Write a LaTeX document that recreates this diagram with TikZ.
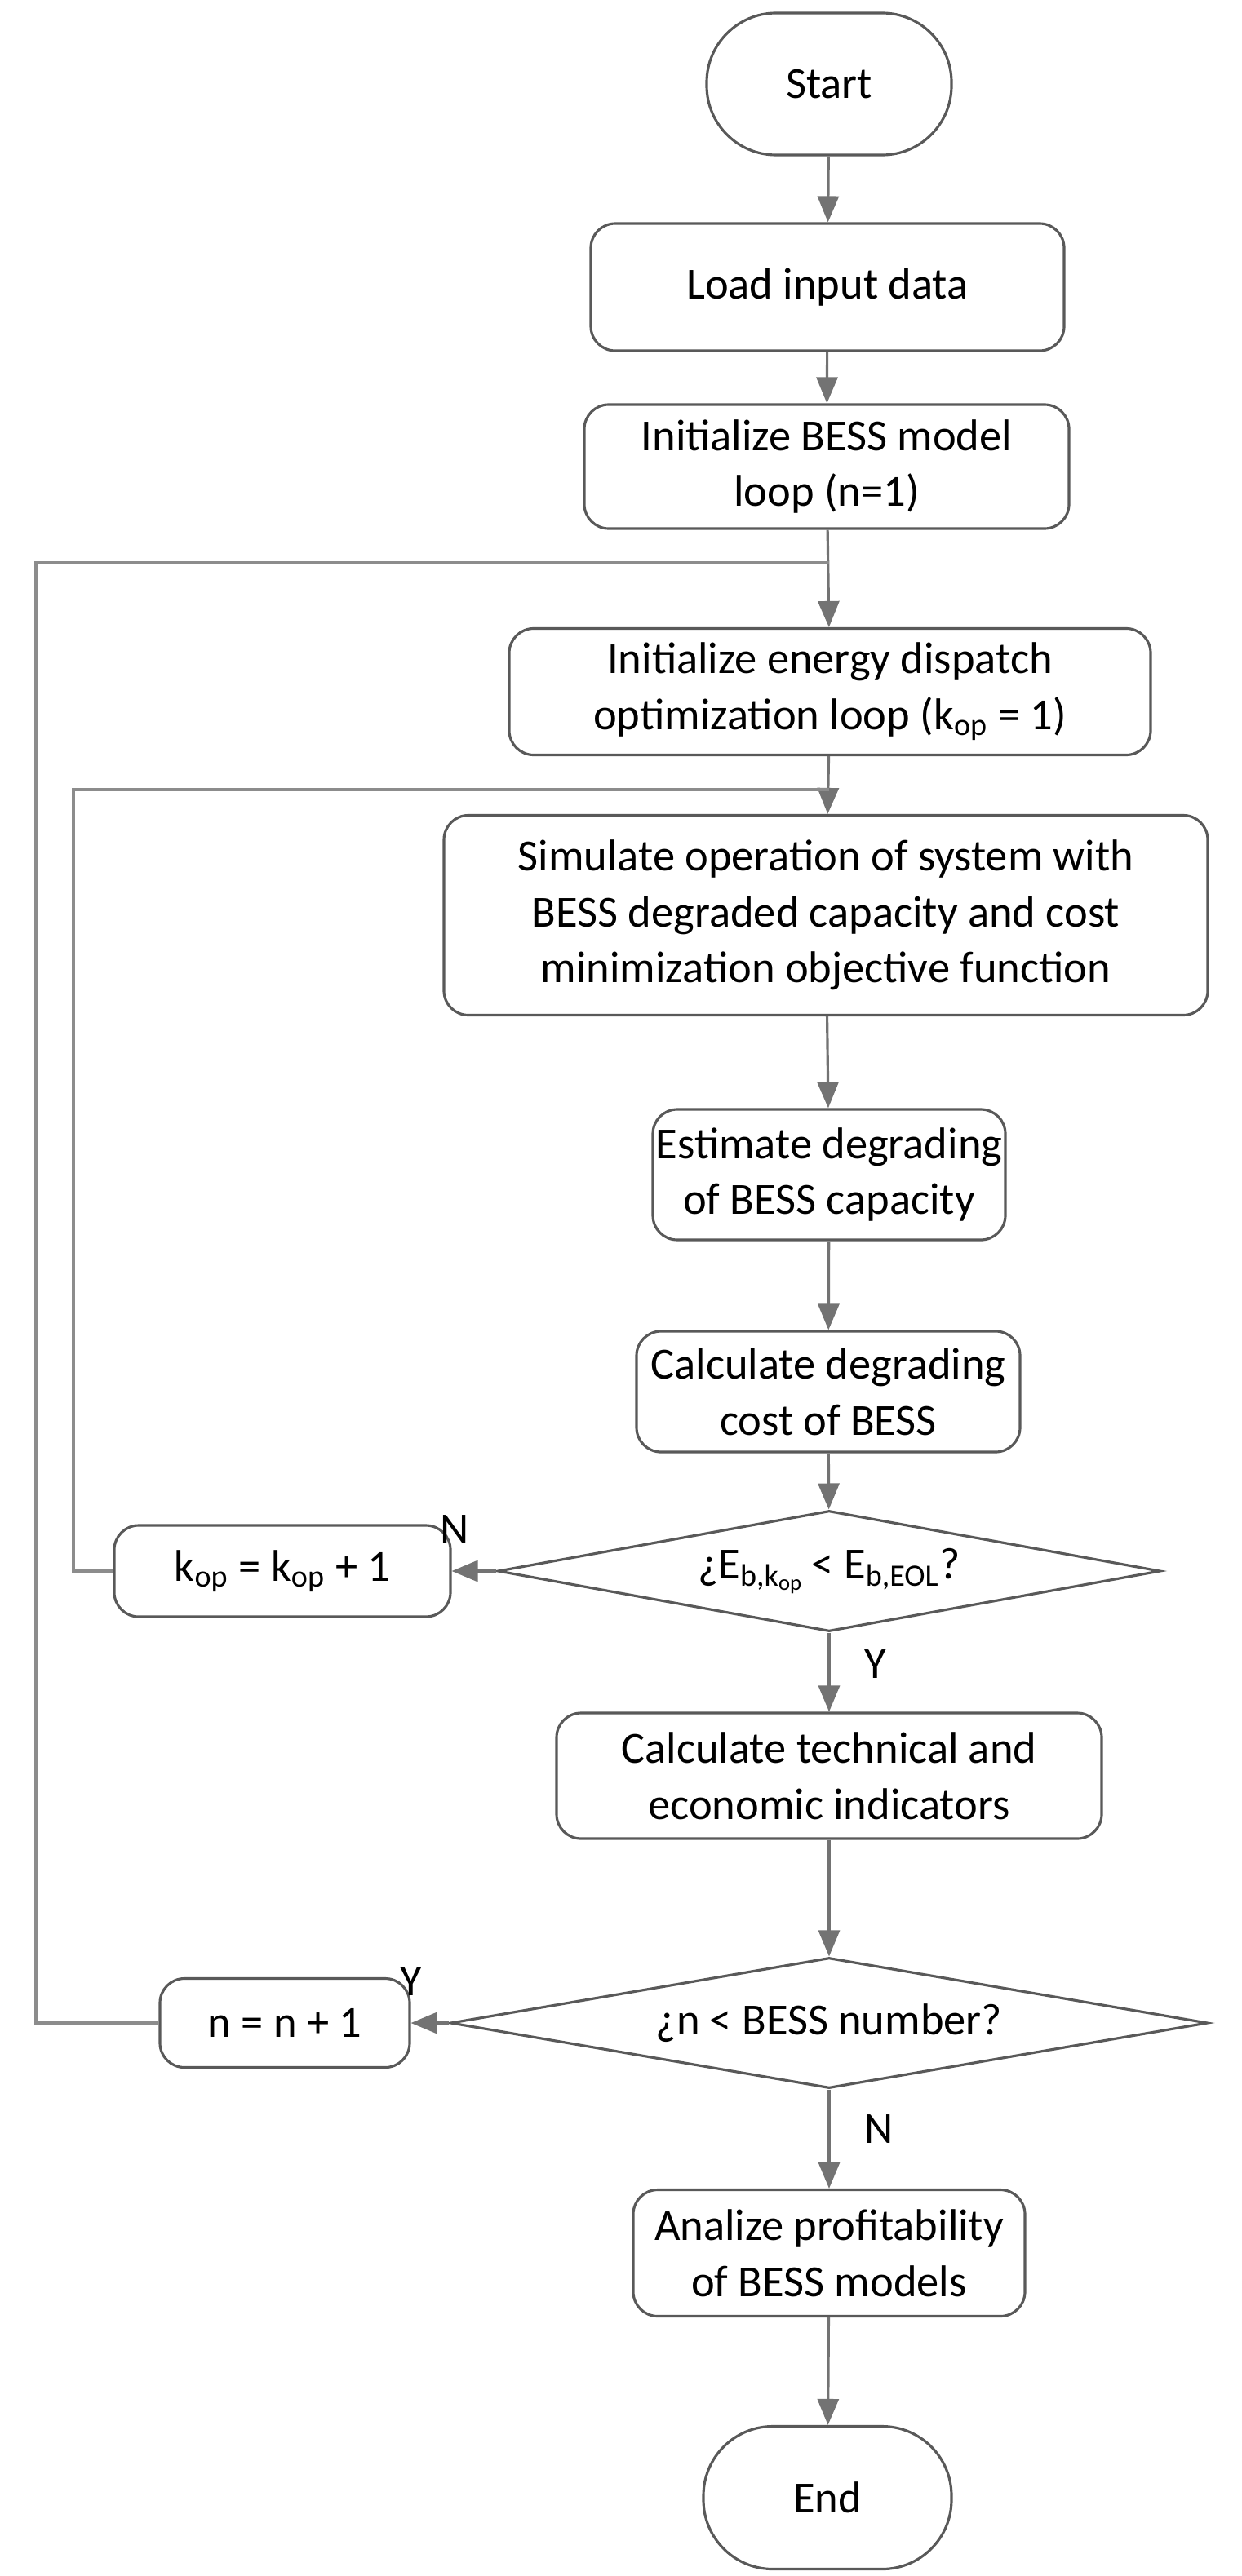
\documentclass[tikz,border=0pt]{standalone}
\usepackage{fontspec}
\setmainfont{Carlito}
\usetikzlibrary{shapes.geometric,arrows.meta}

\begin{document}
\begin{tikzpicture}[
        every node/.style = {font=\fontsize{15.5}{19.5}\selectfont, align=center, text=black},
        box/.style = {shape=rectangle, rounded corners=3mm, draw=black!65, line width=0.9pt, inner sep=0pt},
        term/.style = {box, rounded corners=8.5mm},
        dec/.style = {shape=diamond, draw=black!65, line width=0.9pt, inner sep=0pt, aspect=5.5},
        flow/.style = {draw=black!55, line width=0.9pt, -{Triangle[length=3.2mm,width=2.6mm]}},
        back/.style = {draw=black!45, line width=0.9pt}
    ]
        \useasboundingbox (0,0) rectangle (15.22,-31.58);
        \node[term, minimum width=30mm, minimum height=17.4mm] (start) at (10.16,-1.03) {Start};
        \node[box, minimum width=58mm, minimum height=15.6mm] (load) at (10.14,-3.52) {Load input data};
        \node[box, minimum width=59.4mm, minimum height=15.2mm] (initbess) at (10.13,-5.72) {Initialize BESS model\\loop (n=1)};
        \node[box, minimum width=78.6mm, minimum height=15.5mm] (initdisp) at (10.17,-8.48) {Initialize energy dispatch\\optimization loop (k\textsubscript{op} = 1)};
        \node[box, minimum width=93.6mm, minimum height=24.5mm] (sim) at (10.12,-11.22) {Simulate operation of system with\\BESS degraded capacity and cost\\minimization objective function};
        \node[box, minimum width=43.2mm, minimum height=16mm] (estim) at (10.16,-14.40) {Estimate degrading\\of BESS capacity};
        \node[box, minimum width=47mm, minimum height=14.8mm] (calcdeg) at (10.15,-17.06) {Calculate degrading\\cost of BESS};
        \node[dec, minimum width=81.2mm, minimum height=14.8mm] (eol) at (10.16,-19.26) {¿E\textsubscript{b,k\textsubscript{op}}\,< E\textsubscript{b,EOL}?};
        \node[box, minimum width=41.2mm, minimum height=11.2mm] (kinc) at (3.46,-19.26) {k\textsubscript{op} = k\textsubscript{op} + 1};
        \node[box, minimum width=66.8mm, minimum height=15.4mm] (indic) at (10.16,-21.77) {Calculate technical and\\economic indicators};
        \node[dec, aspect=5.8, minimum width=92.8mm, minimum height=16mm] (nbess) at (10.16,-24.80) {¿n < BESS number?};
        \node[box, minimum width=30.6mm, minimum height=10.9mm] (ninc) at (3.49,-24.80) {n = n + 1};
        \node[box, minimum width=48mm, minimum height=15.5mm] (profit) at (10.16,-27.62) {Analize profitability\\of BESS models};
        \node[term, minimum width=30.4mm, minimum height=17.5mm] (stop) at (10.14,-30.62) {End};

        % joins of the two loops
        \coordinate (jn) at (10.16,-6.90);
        \coordinate (jk) at (10.16,-9.68);

        \draw[flow] (start) -- (load);
        \draw[flow] (load) -- (initbess);
        \draw[flow] (initbess) -- (initdisp);
        \draw[flow] (initdisp) -- (sim);
        \draw[flow] (sim) -- (estim);
        \draw[flow] (estim) -- (calcdeg);
        \draw[flow] (calcdeg) -- (eol);
        \draw[flow] (eol) -- node[right=3mm, pos=0.4] {Y} (indic);
        \draw[flow] (eol) -- node[above left=2mm, pos=0] {N} (kinc);
        \draw[flow] (indic) -- (nbess);
        \draw[flow] (nbess) -- node[above left=2mm, pos=0] {Y} (ninc);
        \draw[flow] (nbess) -- node[right=3mm, pos=0.4] {N} (profit);
        \draw[flow] (profit) -- (stop);

        \draw[back] (kinc.west) -- (0.90,-19.26) -- (0.90,-9.68) -- (jk);
        \draw[back] (ninc.west) -- (0.44,-24.80) -- (0.44,-6.90) -- (jn);
    \end{tikzpicture}
\end{document}
